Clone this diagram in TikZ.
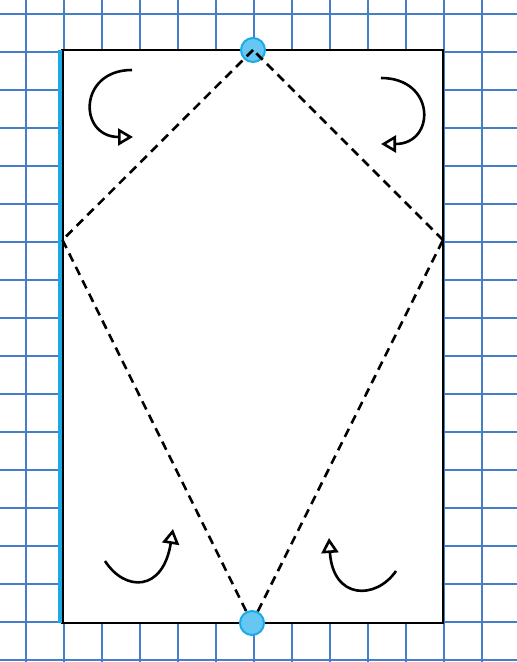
\documentclass[tikz,border=0pt]{standalone}
\usetikzlibrary{arrows.meta}
\definecolor{gridblue}{RGB}{68,126,200}
\definecolor{pinblue}{RGB}{27,170,230}
\definecolor{pinfill}{RGB}{102,200,242}
\begin{document}
\begin{tikzpicture}[x=1pt, y=1pt, line width=2.6pt,
  pin node/.style={circle,draw=pinblue,fill=pinfill,line width=2pt,minimum size=24pt,inner sep=0pt},
  fold/.style={dash pattern=on 9pt off 6pt},
  turn/.style={-{Triangle[open,length=15pt,width=17pt,line width=2.6pt]}}]
\useasboundingbox (0,0) rectangle (517,662);
% squared paper
\foreach \x in {26,64,...,482} \draw[gridblue,line width=1.4pt] (\x,0) -- (\x,662);
\foreach \y in {2,40,...,648} \draw[gridblue,line width=1.4pt] (0,\y) -- (517,\y);
% sheet
\draw[fill=white] (62.5,39) rectangle (443,612);
\draw[pinblue,line width=4pt] (60,39) -- (60,612);
\node [pin node](top) at (253,612) {};
\node [pin node](bottom) at (252,39) {};
\coordinate (left) at (62.5,422);
\coordinate (right) at (443,422);
\path
    (top.center) edge [fold] (left)
    (left) edge [fold] (bottom)
    (bottom) edge [fold] (right)
    (right) edge [fold] (top.center)
    ;
% turning arrows
\draw[turn] (132,592) .. controls (78,592) and (78,525) .. (133,525);
\draw[turn] (381,584) .. controls (436,584) and (436,518) .. (381,518);
\draw[turn] (105,101) .. controls (125,70) and (163,70) .. (173,133);
\draw[turn] (396,91) .. controls (376,62) and (333,62) .. (329,124);
\end{tikzpicture}
\end{document}
